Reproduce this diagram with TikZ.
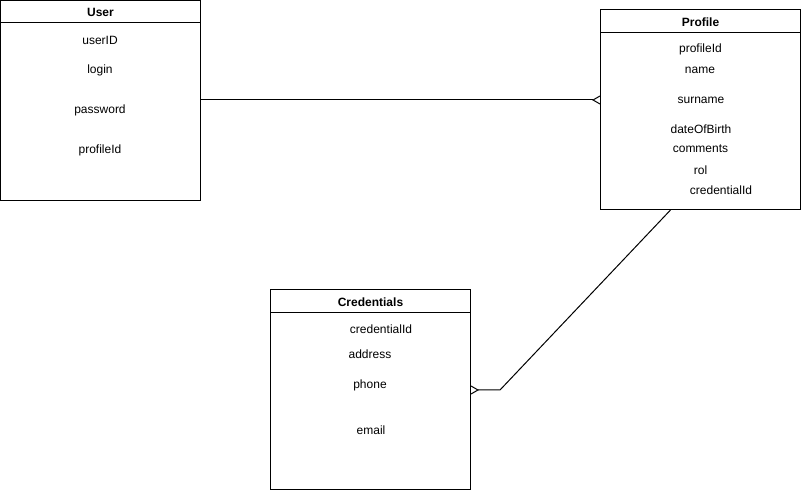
\documentclass[tikz,border=0pt]{standalone}
\usepackage{fontspec}
\setmainfont{Liberation Sans}
\usetikzlibrary{arrows.meta}

\tikzset{
  entity/.style={draw, line width=0.75pt, minimum width=150pt, minimum height=150pt, inner sep=0pt, outer sep=0pt},
  title/.style={font=\fontsize{9}{11}\selectfont\bfseries, inner sep=0pt},
  field/.style={font=\fontsize{9}{11}\selectfont, inner sep=0pt},
  link/.style={line width=0.75pt},
  many/.style={-{Straight Barb[reversed, length=5.25pt, width=6pt, line width=0.75pt]}}
}

\begin{document}
\begin{tikzpicture}[x=0.75pt, y=-0.75pt]
        \useasboundingbox (0,0) rectangle (801,491);

        % User table
        \node[entity] (user) at (100.5,100.5) {};
        \draw[link] ([yshift=-16.5pt]user.north west) -- ([yshift=-16.5pt]user.north east);
        \node[title] (usertitle) at (100.5,12) {User};
        \node[field] (useruserid) at (100,40) {userID};
        \node[field] (userlogin) at (100,70) {login};
        \node[field] (userpassword) at (100,110) {password};
        \node[field] (userprofileid) at (100,150) {profileId};

        % Profile table
        \node[entity] (profile) at (700.5,110) {};
        \draw[link] ([yshift=-17.25pt]profile.north west) -- ([yshift=-17.25pt]profile.north east);
        \node[title] (profiletitle) at (700.5,22) {Profile};
        \node[field] (profileprofileid) at (700.5,49) {profileId};
        \node[field] (profilename) at (700,70) {name};
        \node[field] (profilesurname) at (701,100) {surname};
        \node[field] (profiledob) at (701,129) {dateOfBirth};
        \node[field] (profilecomments) at (700.5,149) {comments};
        \node[field] (profilerol) at (700.5,170) {rol};
        \node[field] (profilecredid) at (721,190) {credentialId};

        % Credentials table
        \node[entity] (cred) at (370.5,390) {};
        \draw[link] ([yshift=-17.25pt]cred.north west) -- ([yshift=-17.25pt]cred.north east);
        \node[title] (credtitle) at (370.5,302) {Credentials};
        \node[field] (credcredid) at (381,329) {credentialId};
        \node[field] (credaddress) at (370,354) {address};
        \node[field] (credphone) at (370,385) {phone};
        \node[field] (credemail) at (371,430) {email};

        % Relations (one to many)
        \coordinate (bend) at (500,390);
        \draw[link, many] (user.east |- 0,100) -- (profile.west |- 0,100);
        \draw[link, many] ([xshift=-22.5pt]profile.south) -- (bend) -- (cred.east);
\end{tikzpicture}
\end{document}
